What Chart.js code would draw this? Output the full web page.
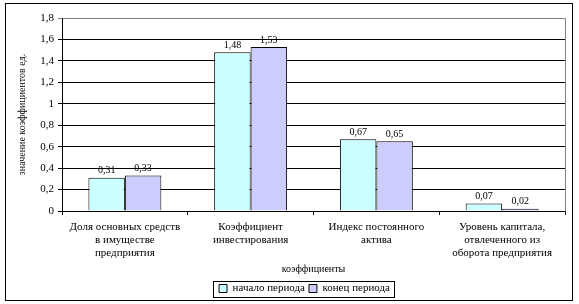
<!DOCTYPE html>
<html>
<head>
<meta charset="utf-8">
<script src="https://cdn.jsdelivr.net/npm/chart.js@4"></script>
<style>
  html, body { margin: 0; padding: 0; background: #fff; }
  #wrap { width: 579px; height: 304px; position: relative; }
</style>
</head>
<body>
<div id="wrap"><canvas id="chart" width="579" height="304"></canvas></div>
<script>
// данные графика
const categories = [
    ['Доля основных средств', 'в имуществе', 'предприятия'],
    ['Коэффициент', 'инвестирования'],
    ['Индекс постоянного', 'актива'],
    ['Уровень капитала,', 'отвлеченного из', 'оборота предприятия']
];
const startValues = [0.31, 1.48, 0.67, 0.07];
const endValues = [0.33, 1.53, 0.65, 0.02];
const seriesNames = ['начало периода', 'конец периода'];
const yTicks = [0, 0.2, 0.4, 0.6, 0.8, 1, 1.2, 1.4, 1.6, 1.8];

const FONT = '"Liberation Serif", "Times New Roman", serif';

function fmt(v) {
    return String(Math.round(v * 100) / 100).replace('.', ',');
}

// подписи значений над столбцами + рамки
const decorPlugin = {
    id: 'decor',
    afterLayout(chart) {
        // легенда в оригинале сдвинута вправо, к центру области построения
        const lg = chart.legend;
        if (lg) {
            lg.left += 14;
            lg.right += 14;
        }
    },
    afterDatasetsDraw(chart) {
        const ctx = chart.ctx;
        ctx.save();
        ctx.font = '10px ' + FONT;
        ctx.fillStyle = '#000';
        ctx.textAlign = 'center';
        ctx.textBaseline = 'bottom';
        chart.data.datasets.forEach((ds, i) => {
            const meta = chart.getDatasetMeta(i);
            meta.data.forEach((bar, j) => {
                ctx.fillText(fmt(ds.data[j]), bar.x, bar.y - 2);
            });
        });
        ctx.restore();
    },
    afterDraw(chart) {
        const ctx = chart.ctx;
        const a = chart.chartArea;
        ctx.save();
        // серая рамка области построения (верх и право)
        ctx.strokeStyle = '#808080';
        ctx.lineWidth = 1;
        ctx.beginPath();
        ctx.moveTo(Math.round(a.left) + 0.5, Math.round(a.top) + 0.5);
        ctx.lineTo(Math.round(a.right) + 0.5, Math.round(a.top) + 0.5);
        ctx.lineTo(Math.round(a.right) + 0.5, Math.round(a.bottom) + 0.5);
        ctx.stroke();
        // внешняя рамка
        ctx.strokeStyle = '#000';
        ctx.strokeRect(5.5, 3.5, 567, 297);
        // рамка легенды
        const lg = chart.legend;
        const boxes = lg && lg.legendHitBoxes;
        if (boxes && boxes.length && lg.lineWidths) {
            const cx = (lg.left + lg.right) / 2;
            const w = lg.lineWidths[0];
            const x0 = Math.round(cx - w / 2) - 4;
            const yc = boxes[0].top + boxes[0].height / 2;
            ctx.strokeRect(x0 + 0.5, Math.round(yc - 8) + 0.5, Math.round(w) + 6, 16);
        }
        ctx.restore();
    }
};

new Chart(document.getElementById('chart'), {
    type: 'bar',
    data: {
        labels: categories,
        datasets: [
            {
                label: seriesNames[0],
                data: startValues,
                backgroundColor: '#CCFFFF',
                borderColor: '#000',
                borderWidth: 1,
                categoryPercentage: 0.58,
                barPercentage: 1
            },
            {
                label: seriesNames[1],
                data: endValues,
                backgroundColor: '#CCCCFF',
                borderColor: '#000',
                borderWidth: 1,
                categoryPercentage: 0.58,
                barPercentage: 1
            }
        ]
    },
    options: {
        responsive: false,
        animation: false,
        layout: { padding: { left: 16, right: 14, top: 18, bottom: 0 } },
        plugins: {
            tooltip: { enabled: false },
            legend: {
                position: 'bottom',
                labels: {
                    font: { family: FONT, size: 11 },
                    color: '#000',
                    boxWidth: 8,
                    boxHeight: 8,
                    padding: 4,
                    useBorderRadius: false
                }
            }
        },
        scales: {
            x: {
                grid: {
                    drawOnChartArea: false,
                    drawTicks: true,
                    tickLength: 4,
                    color: '#000',
                    offset: true
                },
                border: { color: '#000' },
                ticks: {
                    font: { family: FONT, size: 11, lineHeight: 1.18 },
                    color: '#000',
                    maxRotation: 0,
                    autoSkip: false,
                    padding: 6
                },
                title: {
                    display: true,
                    text: 'коэффициенты',
                    font: { family: FONT, size: 10 },
                    color: '#000',
                    padding: { top: 4, bottom: 4 }
                },
                afterFit(scale) { scale.height = 68; }
            },
            y: {
                min: 0,
                max: 1.8,
                afterBuildTicks(scale) {
                    scale.ticks = yTicks.map(v => ({ value: v }));
                },
                grid: {
                    color: ctx => ctx.tick && ctx.tick.value === 1.8 ? '#808080' : '#000',
                    tickLength: 4
                },
                border: { color: '#000' },
                ticks: {
                    font: { family: FONT, size: 11 },
                    color: '#000',
                    padding: 4,
                    callback: v => fmt(v)
                },
                title: {
                    display: true,
                    text: 'значение коэффициентов ед.',
                    font: { family: FONT, size: 10 },
                    color: '#000',
                    padding: { top: 0, bottom: 0 }
                },
                afterFit(scale) { scale.width = 46; }
            }
        }
    },
    plugins: [decorPlugin]
});
</script>
</body>
</html>
